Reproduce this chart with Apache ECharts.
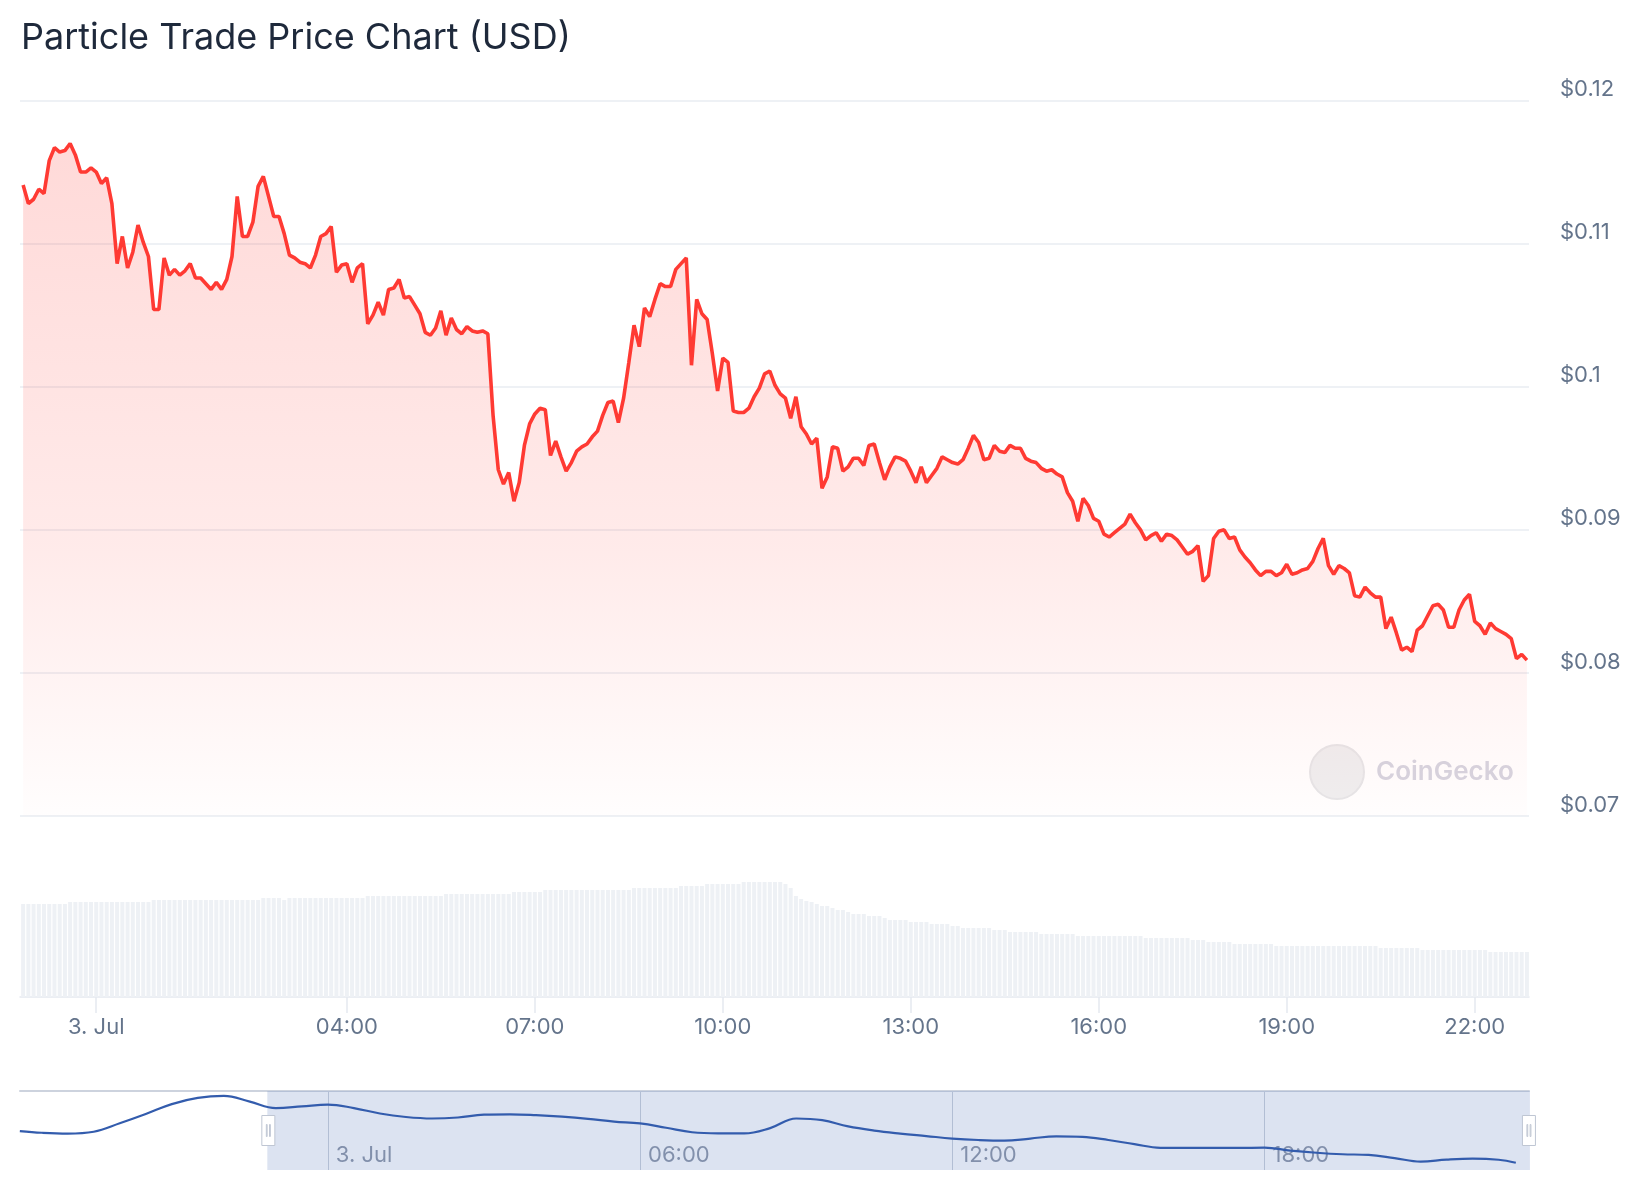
<!DOCTYPE html>
<html><head><meta charset="utf-8">
<script src="https://cdn.jsdelivr.net/npm/echarts@6/dist/echarts.min.js"></script>
<style>html,body{margin:0;padding:0;background:#fff}#c{width:1644px;height:1200px}</style>
</head><body><div id="c"></div>
<script>
const TITLE = 'Particle Trade Price Chart (USD)';
// 5-minute samples starting 2 Jul 22:50 (UTC)
const startUTC = Date.UTC(2024, 6, 2, 22, 50);
const stepMs = 5 * 60 * 1000;
const midnightUTC = Date.UTC(2024, 6, 3, 0, 0);

const prices = [
0.1141,0.1128,0.1131,0.1138,0.1135,0.1158,0.1167,0.1164,0.1165,0.1170,
0.1162,0.1150,0.1150,0.1153,0.1150,0.1142,0.1146,0.1128,0.1086,0.1105,
0.1083,0.1094,0.1113,0.1101,0.1091,0.1054,0.1054,0.1090,0.1078,0.1082,
0.1078,0.1081,0.1086,0.1076,0.1076,0.1072,0.1068,0.1073,0.1068,0.1075,
0.1091,0.1133,0.1105,0.1105,0.1115,0.1140,0.1147,0.1133,0.1119,0.1119,
0.1107,0.1092,0.1090,0.1087,0.1086,0.1083,0.1092,0.1105,0.1107,0.1112,
0.1080,0.1085,0.1086,0.1073,0.1083,0.1086,0.1044,0.1050,0.1059,0.1050,
0.1068,0.1069,0.1075,0.1062,0.1063,0.1057,0.1051,0.1038,0.1036,0.1041,
0.1053,0.1036,0.1048,0.1040,0.1037,0.1042,0.1039,0.1038,0.1039,0.1037,
0.0980,0.0942,0.0932,0.0940,0.0920,0.0933,0.0959,0.0974,0.0981,0.0985,
0.0984,0.0952,0.0962,0.0951,0.0941,0.0947,0.0955,0.0958,0.0960,0.0965,
0.0969,0.0980,0.0989,0.0990,0.0975,0.0992,0.1017,0.1043,0.1028,0.1055,
0.1049,0.1061,0.1072,0.1070,0.1070,0.1082,0.1086,0.1090,0.1015,0.1061,
0.1051,0.1047,0.1023,0.0997,0.1020,0.1017,0.0983,0.0982,0.0982,0.0985,
0.0993,0.0999,0.1009,0.1011,0.1001,0.0995,0.0992,0.0978,0.0993,0.0972,
0.0967,0.0960,0.0964,0.0929,0.0937,0.0958,0.0957,0.0941,0.0944,0.0950,
0.0950,0.0945,0.0959,0.0960,0.0947,0.0935,0.0944,0.0951,0.0950,0.0948,
0.0941,0.0933,0.0944,0.0933,0.0938,0.0943,0.0951,0.0949,0.0947,0.0946,
0.0949,0.0957,0.0966,0.0961,0.0949,0.0950,0.0959,0.0955,0.0954,0.0959,
0.0957,0.0957,0.0950,0.0948,0.0947,0.0943,0.0941,0.0942,0.0939,0.0937,
0.0926,0.0920,0.0906,0.0922,0.0917,0.0908,0.0906,0.0897,0.0895,0.0898,
0.0901,0.0904,0.0911,0.0905,0.0900,0.0893,0.0896,0.0898,0.0892,0.0897,
0.0896,0.0893,0.0888,0.0883,0.0885,0.0889,0.0864,0.0868,0.0894,0.0899,
0.0900,0.0894,0.0895,0.0886,0.0881,0.0877,0.0872,0.0868,0.0871,0.0871,
0.0868,0.0870,0.0876,0.0869,0.0870,0.0872,0.0873,0.0878,0.0887,0.0894,
0.0875,0.0869,0.0875,0.0873,0.0870,0.0854,0.0853,0.0860,0.0856,0.0853,
0.0853,0.0831,0.0839,0.0828,0.0816,0.0818,0.0815,0.0830,0.0833,0.0840,
0.0847,0.0848,0.0844,0.0832,0.0832,0.0844,0.0851,0.0855,0.0836,0.0833,
0.0827,0.0835,0.0831,0.0829,0.0827,0.0824,0.0810,0.0813,0.0809
];

// 24h rolling volume, USD millions (one per price sample)
const volumes = [
2.79,2.79,2.79,2.79,2.79,2.79,2.79,2.79,2.79,
2.85,2.85,2.85,2.85,2.85,2.85,2.85,2.85,2.85,2.85,2.85,2.85,2.85,2.85,2.85,2.85,
2.91,2.91,2.91,2.91,2.91,2.91,2.91,2.91,2.91,2.91,2.91,2.91,2.91,2.91,2.91,2.91,2.91,2.91,2.91,2.91,2.91,
2.97,2.97,2.97,2.97,2.91,
2.97,2.97,2.97,2.97,2.97,2.97,2.97,2.97,2.97,2.97,2.97,2.97,2.97,2.97,2.97,
3.03,3.03,3.03,3.03,3.03,3.03,3.03,3.03,3.03,3.03,3.03,3.03,3.03,3.03,3.03,
3.09,3.09,3.09,3.09,3.09,3.09,3.09,3.09,3.09,3.09,3.09,3.09,3.09,
3.15,3.15,3.15,3.15,3.15,3.15,
3.21,3.21,3.21,3.21,3.21,3.21,3.21,3.21,3.21,3.21,3.21,3.21,3.21,3.21,3.21,3.21,3.21,
3.27,3.27,3.27,3.27,3.27,3.27,3.27,3.27,3.27,
3.33,3.33,3.33,3.33,3.33,
3.39,3.39,3.39,3.39,3.39,3.39,3.39,
3.45,3.45,3.45,3.45,3.45,3.45,3.45,3.45,
3.39,3.27,3.03,2.94,2.88,2.85,2.79,
2.73,2.73,2.67,2.61,2.61,2.55,2.49,2.49,2.49,2.43,2.43,2.43,2.37,
2.31,2.31,2.31,2.31,2.25,2.25,2.25,2.25,2.19,2.19,2.19,2.19,2.13,2.13,
2.07,2.07,2.07,2.07,2.07,2.07,2.01,2.01,2.01,
1.95,1.95,1.95,1.95,1.95,1.95,1.89,1.89,1.89,1.89,1.89,1.89,1.89,
1.83,1.83,1.83,1.83,1.83,1.83,1.83,1.83,1.83,1.83,1.83,1.83,1.83,
1.77,1.77,1.77,1.77,1.77,1.77,1.77,1.77,1.77,
1.71,1.71,1.71,1.65,1.65,1.65,1.65,1.65,
1.59,1.59,1.59,1.59,1.59,1.59,1.59,1.59,
1.53,1.53,1.53,1.53,1.53,1.53,1.53,1.53,1.53,1.53,1.53,1.53,1.53,1.53,1.53,1.53,1.53,1.53,1.53,1.53,
1.47,1.47,1.47,1.47,1.47,1.47,1.47,1.47,
1.41,1.41,1.41,1.41,1.41,1.41,1.41,1.41,1.41,1.41,1.41,1.41,1.41,
1.35,1.35,1.35,1.35,1.35,1.35,1.35,1.35
];

const yTicks = [0.07, 0.08, 0.09, 0.10, 0.11, 0.12];
const xTickHours = [0, 4, 7, 10, 13, 16, 19, 22];      // hours after 3 Jul 00:00
const navTickHours = [0, 6, 12, 18];

// navigator (overview) series: hours after 3 Jul 00:00, price
const navHours = [-5.92,-5.5,-5,-4.5,-4,-3.5,-3,-2.5,-2,-1.5,-1,-0.5,0,0.5,1,1.5,2,2.5,3,3.5,4,4.5,5,5.5,6,6.5,7,7.5,8,8.5,9,9.5,10,10.5,11,11.5,12,12.5,13,13.5,14,14.5,15,15.5,16,16.5,17,17.5,18,18.5,19,19.5,20,20.5,21,21.5,22,22.5,22.83];
const navPrices = [0.1000,0.0990,0.0985,0.0996,0.1047,0.1103,0.1163,0.1200,0.1212,0.1178,0.1139,0.1149,0.1160,0.1139,0.1106,0.1085,0.1076,0.1082,0.1099,0.1101,0.1096,0.1087,0.1074,0.1057,0.1046,0.1020,0.0993,0.0986,0.0986,0.1018,0.1076,0.1066,0.1028,0.1003,0.0985,0.0970,0.0955,0.0946,0.0942,0.0955,0.0968,0.0965,0.0946,0.0921,0.0899,0.0898,0.0898,0.0898,0.0900,0.0882,0.0869,0.0860,0.0856,0.0837,0.0816,0.0828,0.0834,0.0827,0.0809];

const H = 3600 * 1000;
const navMin = Date.UTC(2024, 6, 2, 18, 5);
const navMax = Date.UTC(2024, 6, 3, 23, 5);
const viewStart = Date.UTC(2024, 6, 2, 22, 47);
const viewEnd = Date.UTC(2024, 6, 3, 22, 52);

const priceData = prices.map((v, i) => [startUTC + i * stepMs, v]);
const volData = volumes.map((v, i) => [startUTC + i * stepMs, v]);
const navData = navHours.map((h, i) => [midnightUTC + h * H, navPrices[i]]);

function fmtTime(v) {
  const d = new Date(Math.round(v));
  const h = d.getUTCHours(), m = d.getUTCMinutes();
  if (h === 0 && m === 0) return d.getUTCDate() + '. Jul';
  return String(h).padStart(2, '0') + ':' + String(m).padStart(2, '0');
}

const FONT = 'Inter';
const LEFT = 20, RIGHT = 115;

const chart = echarts.init(document.getElementById('c'), null, { renderer: 'canvas' });
chart.setOption({
  animation: false,
  backgroundColor: '#ffffff',
  title: {
    text: TITLE, left: 16, top: 15,
    textStyle: { fontFamily: FONT, fontSize: 36, fontWeight: 400, color: '#1e293b' }
  },
  grid: [
    { left: LEFT, right: RIGHT, top: 100.5, height: 715.6 },
    { left: LEFT, right: RIGHT, top: 847, height: 150 },
    { left: LEFT, right: RIGHT, top: 1091, height: 79 }
  ],
  xAxis: [
    { type: 'value', gridIndex: 0, min: navMin, max: viewEnd, show: false, splitLine: { show: false } },
    { type: 'value', gridIndex: 1, min: navMin, max: viewEnd,
      axisLine: { show: true, lineStyle: { color: '#e5e9ef', width: 1.5 } },
      axisTick: { show: true, length: 16, lineStyle: { color: '#e5e9ef', width: 1.5 },
        customValues: xTickHours.map(h => midnightUTC + h * H) },
      axisLabel: { fontFamily: FONT, fontSize: 22, color: '#64748b', margin: 19,
        customValues: xTickHours.map(h => midnightUTC + h * H), formatter: fmtTime },
      splitLine: { show: false } },
    { type: 'value', gridIndex: 2, min: navMin, max: navMax,
      axisLine: { show: false },
      axisTick: { show: false, customValues: navTickHours.map(h => midnightUTC + h * H) },
      axisLabel: { inside: true, fontFamily: FONT, fontSize: 22, color: '#8a93a5', margin: 4,
        align: 'left', padding: [0, 0, 0, 8],
        customValues: navTickHours.map(h => midnightUTC + h * H), formatter: fmtTime },
      splitLine: { show: true, lineStyle: { color: '#c9cfda', width: 1 } } },
    { type: 'value', gridIndex: 2, position: 'top', min: navMin, max: navMax,
      axisLine: { show: true, lineStyle: { color: '#cdd3de', width: 2 } },
      axisTick: { show: false }, axisLabel: { show: false }, splitLine: { show: false } }
  ],
  yAxis: [
    { type: 'value', gridIndex: 0, position: 'right', min: 0.07, max: 0.12, interval: 0.01,
      axisLine: { show: false }, axisTick: { show: false },
      axisLabel: { fontFamily: FONT, fontSize: 22, color: '#64748b', margin: 31,
        verticalAlign: 'bottom', formatter: v => '$' + parseFloat(v.toFixed(4)) },
      splitLine: { show: true, lineStyle: { color: '#e9edf2', width: 1.5 } } },
    { type: 'value', gridIndex: 1, min: 0, max: 4.5, show: false, splitLine: { show: false } },
    { type: 'value', gridIndex: 2, min: 0.0765, max: 0.1242, show: false, splitLine: { show: false } }
  ],
  dataZoom: [{
    type: 'slider', xAxisIndex: [0, 1], filterMode: 'none',
    left: LEFT, right: RIGHT, top: 1091, height: 79,
    startValue: viewStart, endValue: viewEnd,
    showDetail: false, showDataShadow: false, brushSelect: false,
    moveHandleSize: 0, moveHandleStyle: { opacity: 0 },
    backgroundColor: 'rgba(0,0,0,0)', borderColor: 'rgba(0,0,0,0)',
    fillerColor: 'rgba(102,133,194,0.23)',
    handleIcon: 'path://M0,0 L13,0 L13,30 L0,30 Z M4.5,9 L5.3,9 L5.3,21 L4.5,21 Z M7.7,9 L8.5,9 L8.5,21 L7.7,21 Z',
    handleSize: 30,
    handleStyle: { color: '#ffffff', borderColor: '#bfc6d3', borderWidth: 1 },
    z: 1
  }],
  graphic: [
    { type: 'circle', shape: { cx: 1337, cy: 772, r: 27 }, z: 1,
      style: { fill: '#efeff0', stroke: '#e6e6e8', lineWidth: 2 } },
    { type: 'text', x: 1376, y: 772, z: 1,
      style: { text: 'CoinGecko', fontFamily: FONT, fontSize: 26, fontWeight: 600,
        fill: '#d6d5e0', verticalAlign: 'middle' } }
  ],
  series: [
    { name: 'Price', type: 'line', xAxisIndex: 0, yAxisIndex: 0, data: priceData,
      showSymbol: false, z: 3,
      lineStyle: { color: '#ff3a33', width: 3.6 },
      itemStyle: { color: '#ff3a33' },
      areaStyle: { color: new echarts.graphic.LinearGradient(0, 0, 0, 1, [
        { offset: 0, color: 'rgba(255,58,51,0.27)' },
        { offset: 0.6, color: 'rgba(255,58,51,0.15)' },
        { offset: 1, color: 'rgba(255,58,51,0.01)' }]) } },
    { name: 'Volume', type: 'bar', xAxisIndex: 1, yAxisIndex: 1, data: volData,
      barWidth: 4, itemStyle: { color: '#eef1f5' } },
    { name: 'Navigator', type: 'line', xAxisIndex: 2, yAxisIndex: 2, data: navData,
      showSymbol: false, smooth: 0.4, z: 3,
      lineStyle: { color: '#335cad', width: 2.2 } }
  ]
});
</script>
</body></html>
